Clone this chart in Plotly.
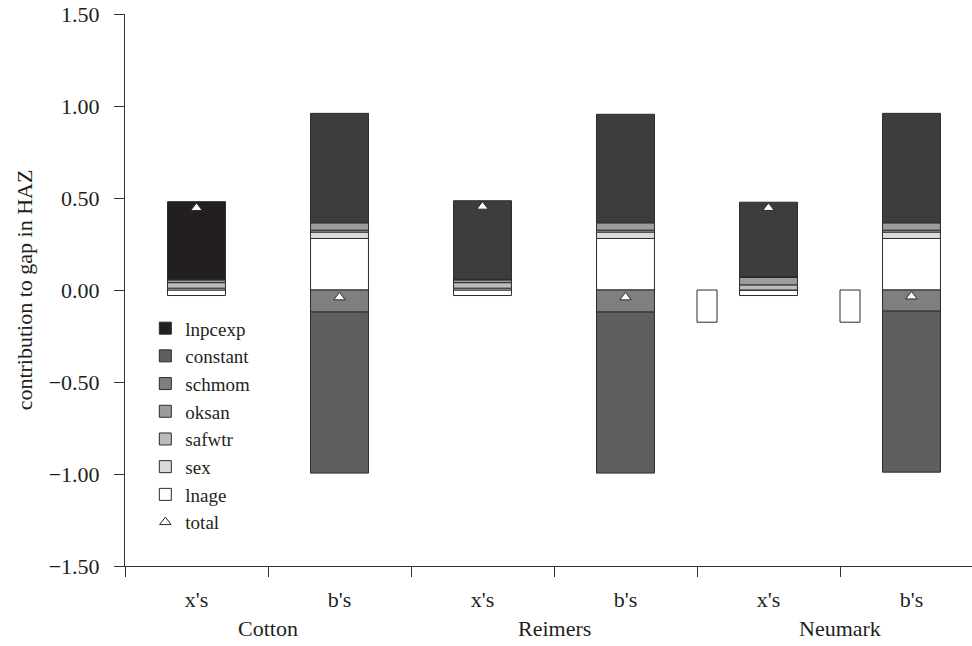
import plotly.graph_objects as go

groups = ["Cotton", "Reimers", "Neumark"]
cats = ["x's", "b's", "x's", "b's", "x's", "b's"]

lnage = [-0.03, 0.28, -0.03, 0.28, -0.03, 0.28]
sex = [0.01, 0.035, 0.01, 0.035, 0.0, 0.035]
safwtr = [0.03, 0.01, 0.03, 0.01, 0.028, 0.01]
oksan = [0.015, 0.04, 0.015, 0.04, 0.04, 0.04]
schmom = [0.003, -0.12, 0.003, -0.12, 0.004, -0.115]
constant = [0.0, -0.875, 0.0, -0.875, 0.0, -0.875]
lnpcexp = [0.422, 0.595, 0.427, 0.59, 0.405, 0.595]
total = [0.446, -0.04, 0.453, -0.04, 0.446, -0.035]

neumark_extra_x = [4, 5]
neumark_extra = [-0.175, -0.175]

ytick_vals = [-1.5, -1.0, -0.5, 0.0, 0.5, 1.0, 1.5]

FONT = "Liberation Serif"
INK = "#231f20"
EDGE = "#2b2b2b"
FS = 22

xpos = list(range(len(cats)))

series = [
    ("lnage", lnage, "#ffffff", 7),
    ("sex", sex, "#dadada", 6),
    ("safwtr", safwtr, "#bcbcbc", 5),
    ("oksan", oksan, "#9c9c9c", 4),
    ("schmom", schmom, "#7f7f7f", 3),
    ("constant", constant, "#5f5f5f", 2),
    ("lnpcexp", lnpcexp, ["#231f20", "#3d3d3d", "#3d3d3d", "#3d3d3d", "#3d3d3d", "#3d3d3d"], 1),
]

fig = go.Figure()
for name, vals, col, rank in series:
    fig.add_trace(go.Bar(
        x=xpos, y=vals, name=name, legendrank=rank,
        marker=dict(color=col, line=dict(color=EDGE, width=1)),
        hoverinfo="skip",
    ))

fig.add_trace(go.Bar(
    x=neumark_extra_x, y=neumark_extra, base=0, offset=-0.5, width=0.14,
    showlegend=False, name="lnage",
    marker=dict(color="#ffffff", line=dict(color=EDGE, width=1)),
))

fig.add_trace(go.Scatter(
    x=xpos, y=total, mode="markers", name="total", legendrank=8,
    marker=dict(symbol="triangle-up", size=10, color="white",
                line=dict(color=EDGE, width=1)),
))

bounds = [i - 0.5 for i in range(len(cats) + 1)]

fig.update_layout(
    width=972, height=646,
    barmode="relative", bargap=0.595,
    plot_bgcolor="white", paper_bgcolor="white",
    margin=dict(l=125, r=0, t=14, b=80),
    font=dict(family=FONT, size=FS, color=INK),
    showlegend=True,
    legend=dict(x=0.024, y=0.465, xanchor="left", yanchor="top",
                bgcolor="rgba(0,0,0,0)", font=dict(size=19, family=FONT, color=INK),
                tracegroupgap=0, itemclick=False),
    xaxis=dict(
        range=[-0.5, -0.5 + 847 / 143], showgrid=False, zeroline=False,
        showline=True, linecolor="#333", linewidth=1,
        tickmode="array", tickvals=xpos, ticktext=cats, ticks="",
        ticklabelstandoff=14,
        tickfont=dict(size=FS, family=FONT, color=INK),
        minor=dict(tickmode="array", tickvals=bounds, ticks="outside",
                   ticklen=10, tickcolor="#333", tickwidth=1, showgrid=False),
    ),
    xaxis2=dict(
        overlaying="x", matches="x", anchor="free", position=0.5,
        showgrid=False, zeroline=False, showline=True, linecolor="#333", linewidth=1,
        tickmode="array", tickvals=bounds[1:], ticks="outside", ticklen=11,
        tickcolor="#333", tickwidth=1, showticklabels=False,
    ),
    yaxis=dict(
        range=[-1.5, 1.5], showgrid=False, zeroline=False,
        showline=True, linecolor="#333", linewidth=1,
        tickmode="array", tickvals=ytick_vals, tickformat=".2f",
        ticks="outside", ticklen=10, tickcolor="#333",
        ticklabelstandoff=10,
        tickfont=dict(size=FS, family=FONT, color=INK),
        title=dict(text="contribution to gap in HAZ", font=dict(size=FS, family=FONT, color=INK),
                   standoff=9),
    ),
)

for i, g in enumerate(groups):
    fig.add_annotation(
        x=2 * i + 0.5, y=0, xref="x", yref="paper", yshift=-62,
        text=g, showarrow=False, yanchor="middle",
        font=dict(size=FS, family=FONT, color=INK),
    )

fig.write_html("out.html")
